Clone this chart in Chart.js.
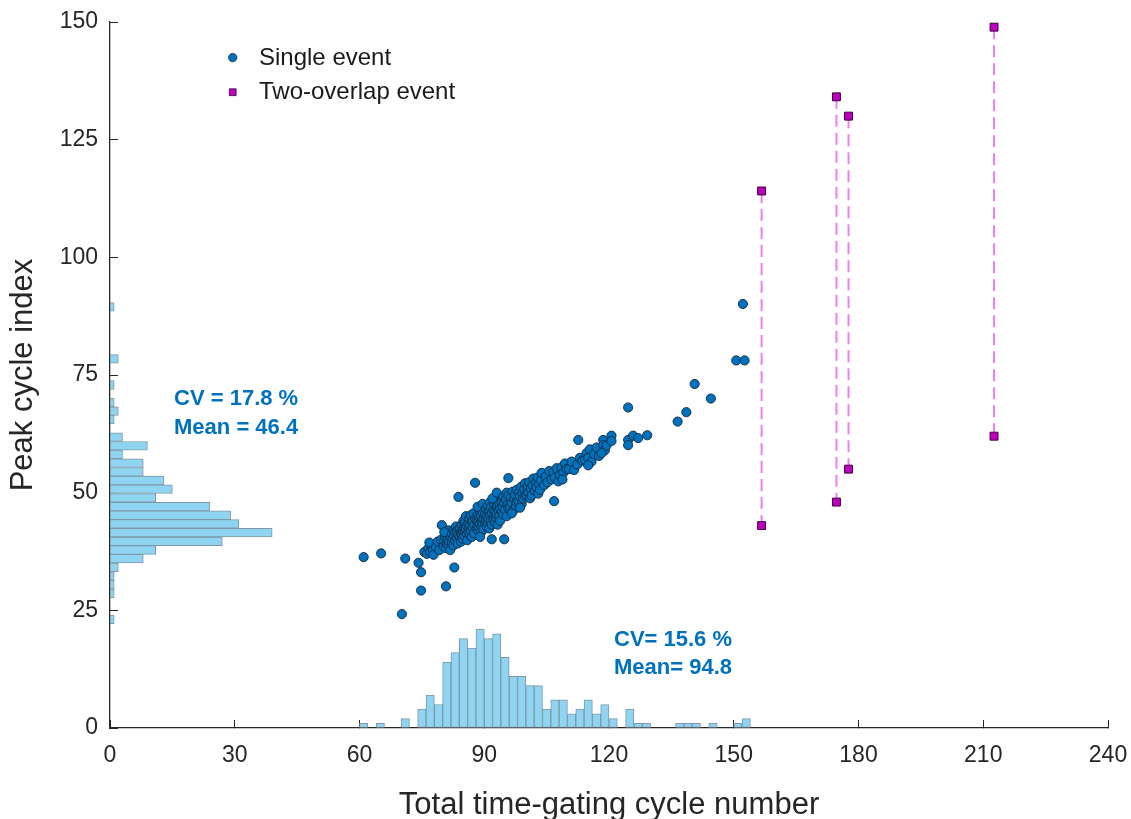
<!DOCTYPE html>
<html>
<head>
<meta charset="utf-8">
<script src="https://cdn.jsdelivr.net/npm/chart.js@4.4.1/dist/chart.umd.min.js"></script>
<style>
html,body{margin:0;padding:0;background:#ffffff;}
#wrap{width:1131px;height:819px;position:relative;overflow:hidden;}
</style>
</head>
<body>
<div id="wrap"><canvas id="c" width="1131" height="819"></canvas></div>
<script>
// ---------------- data ----------------
const xTicks = [0, 30, 60, 90, 120, 150, 180, 210, 240];
const yTicks = [0, 25, 50, 75, 100, 125, 150];
const xTitle = 'Total time-gating cycle number';
const yTitle = 'Peak cycle index';
const legendLabels = ['Single event', 'Two-overlap event'];
const statsY = ['CV = 17.8 %', 'Mean = 46.4'];
const statsX = ['CV= 15.6 %', 'Mean= 94.8'];

// single events [total cycles, peak cycle index]
const singleEvents = [
[61.0,36.3],[65.2,37.1],[70.2,24.2],[71.0,36.0],
[74.2,35.1],[74.8,33.1],[74.8,29.2],[75.6,37.4],
[76.2,37.0],[76.6,38.2],[77.0,37.4],[77.2,39.0],[77.6,38.0],[77.8,36.8],[76.8,39.4],
[78.4,38.4],[78.8,39.6],[79.2,37.8],[79.6,40.0],[79.8,43.1],
[80.8,30.1],[80.2,38.6],[80.4,39.8],[80.6,40.6],[80.8,38.2],[81.0,39.2],[81.0,41.2],[81.2,40.0],[81.4,38.8],[81.4,42.0],[81.6,39.6],[81.8,40.8],[81.8,37.8],[80.4,41.6],
[82.8,34.1],[83.8,49.1],[82.2,39.4],[82.2,41.2],[82.4,40.2],[82.6,42.0],[82.6,38.8],[82.8,40.8],[83.0,41.6],[83.0,39.8],[83.2,42.8],[83.4,40.4],[83.4,41.8],[83.6,39.2],[83.8,42.2],[83.8,40.9],
[84.2,40.6],[84.2,42.4],[84.4,41.4],[84.4,39.6],[84.6,43.2],[84.6,41.0],[84.8,42.0],[84.8,40.2],[85.0,44.0],[85.0,41.6],[85.2,42.8],[85.2,40.8],[85.4,43.6],[85.4,41.8],[85.6,42.4],[85.6,45.0],[85.8,41.2],[85.8,43.0],[85.9,39.9],
[87.8,52.1],[86.2,41.6],[86.2,43.4],[86.4,42.4],[86.4,44.6],[86.6,41.0],[86.6,43.0],[86.8,45.2],[86.8,42.0],[87.0,43.8],[87.0,40.6],[87.2,44.0],[87.2,42.6],[87.4,45.6],[87.6,43.2],[87.6,41.4],[87.8,44.4],
[88.2,42.4],[88.2,44.2],[88.4,43.0],[88.4,45.2],[88.6,41.8],[88.6,43.8],[88.8,44.8],[88.8,42.6],[89.0,46.0],[89.0,43.4],[89.2,45.0],[89.2,41.6],[89.4,44.0],[89.4,42.8],[89.6,45.8],[89.6,43.6],[89.8,44.4],[89.8,42.2],[88.4,47.0],[89.0,40.6],[89.6,47.6],
[91.8,40.1],[90.2,43.6],[90.2,45.4],[90.4,44.2],[90.4,46.6],[90.6,42.8],[90.6,45.0],[90.8,47.2],[90.8,43.8],[91.0,45.8],[91.0,44.4],[91.2,46.2],[91.2,42.4],[91.4,45.2],[91.4,48.0],[91.6,44.0],[91.6,46.8],[91.8,45.6],[91.8,43.2],
[92.2,44.4],[92.2,46.4],[92.4,45.2],[92.4,47.6],[92.6,43.6],[92.6,46.0],[92.8,48.2],[92.8,44.8],[93.0,46.8],[93.0,45.4],[93.2,47.2],[93.2,43.2],[93.4,46.2],[93.4,49.0],[93.6,45.0],[93.6,47.8],[93.8,46.6],[93.8,44.0],[92.0,48.8],[93.0,50.0],
[94.8,40.1],[95.8,53.1],[94.2,46.0],[94.2,48.0],[94.4,47.0],[94.6,49.2],[94.6,45.4],[94.8,47.8],[95.0,46.4],[95.2,48.6],[95.4,50.0],[95.4,45.0],[95.6,47.4],[95.8,49.4],[95.8,46.8],
[96.2,47.0],[96.4,49.0],[96.6,47.8],[96.8,50.2],[97.0,46.2],[97.2,48.6],[97.4,49.6],[97.6,47.2],[97.8,50.6],[97.8,48.0],[96.6,45.6],
[98.2,48.2],[98.4,50.0],[98.6,49.2],[98.8,51.2],[99.0,47.6],[99.2,49.8],[99.4,48.8],[99.6,50.8],[99.8,49.4],[99.8,52.0],[98.6,46.8],
[100.2,49.6],[100.4,51.2],[100.6,50.0],[100.8,52.2],[101.0,48.8],[101.2,50.8],[101.4,49.4],[101.6,51.6],[101.8,53.0],
[102.2,50.4],[102.4,52.0],[102.6,51.2],[102.8,53.2],[103.0,49.8],[103.2,51.8],[103.4,50.6],[103.6,52.6],[103.8,54.2],
[104.4,51.6],[104.8,53.4],[105.2,52.2],[105.6,54.6],
[106.8,48.2],[106.2,52.8],[106.6,54.4],[107.0,53.2],[107.4,55.2],[107.8,52.4],
[108.2,53.8],[108.6,55.4],[109.0,54.2],[109.4,56.2],[109.8,55.0],[108.8,52.8],
[110.4,55.0],[111.0,56.6],[111.6,54.8],
[112.6,61.2],[112.4,56.0],[113.0,57.4],[113.6,56.8],
[114.2,57.0],[114.6,58.4],[115.0,57.4],[115.4,59.2],[115.8,56.6],[115.0,55.8],
[116.4,58.2],[117.0,59.6],[117.6,57.8],
[118.6,61.2],[118.6,60.1],[119.0,59.0],[119.4,60.0],[118.2,58.4],
[120.6,62.1],[120.6,61.0],
[124.6,68.1],[124.6,61.2],[124.6,60.1],[125.8,62.1],
[127.0,61.6],[129.2,62.2],
[136.5,65.1],[138.6,67.1],[140.6,73.1],[144.5,70.0],[150.6,78.1],[152.2,90.1],[152.6,78.1]
];

// two-overlap events: one x, two peaks
const overlapX = [156.7, 174.7, 177.6, 212.6];
const overlapTop = [114.1, 134.1, 130.0, 148.9];
const overlapBottom = [43.0, 48.0, 55.0, 62.0];

// histogram of total cycles (bin centers, counts)
const xHistCenters = [61,65,71,75,77,79,81,83,85,87,89,91,93,95,97,99,101,103,105,107,109,111,113,115,117,119,121,125,127,129,137,139,141,145,151,153];
const xHistCounts  = [1,1,2,4,7,5,14,16,19,17,21,19,20,15,11,11,9,9,4,6,6,3,4,6,3,5,2,4,1,1,1,1,1,1,1,2];

// histogram of peak cycle index (bin centers, counts)
const yHistCenters = [89.48,78.41,72.88,69.18,67.34,65.50,61.81,59.96,58.12,56.27,54.43,52.58,50.74,48.89,47.05,45.20,43.36,41.51,39.67,37.82,35.98,34.13,32.29,30.44,28.60,23.06];
const yHistCounts  = [1,2,1,1,2,1,3,9,3,8,8,13,15,11,24,29,31,39,27,11,8,2,1,1,1,1];

// ---------------- chart ----------------
const FONT = '"Liberation Sans", Arial, Helvetica, sans-serif';
const INK = '#262626';
const BLUE = '#0072BD';
Chart.defaults.font.family = FONT;
Chart.defaults.color = INK;

const scatterData = singleEvents.map(([x, y]) => ({x, y}));
const pairLines = [];
overlapX.forEach((x, i) => {
  pairLines.push({x, y: overlapTop[i]}, {x, y: overlapBottom[i]}, {x, y: null});
});
const pairPoints = overlapX.flatMap((x, i) => [{x, y: overlapTop[i]}, {x, y: overlapBottom[i]}]);
const xHistData = xHistCenters.map((c, i) => ({x: c, y: xHistCounts[i]}));
const yHistData = yHistCenters.map((c, i) => ({x: yHistCounts[i], y: c}));

const overlay = {
  id: 'overlay',
  afterDraw(chart) {
    const {ctx, chartArea: a, scales: {x, y}} = chart;
    ctx.save();
    ctx.fillStyle = BLUE;
    ctx.font = 'bold 22px ' + FONT;
    ctx.textAlign = 'left';
    ctx.textBaseline = 'middle';
    ctx.fillText(statsY[0], x.getPixelForValue(15.4), y.getPixelForValue(70.0));
    ctx.fillText(statsY[1], x.getPixelForValue(15.4), y.getPixelForValue(63.7));
    ctx.fillText(statsX[0], x.getPixelForValue(121.2), y.getPixelForValue(18.7));
    ctx.fillText(statsX[1], x.getPixelForValue(121.2), y.getPixelForValue(12.85));

    // legend
    const mx = a.left + 122.7;
    const r1 = a.top + 35.6, r2 = a.top + 70.2;
    ctx.lineWidth = 0.8;
    ctx.beginPath();
    ctx.arc(mx, r1, 4.2, 0, Math.PI * 2);
    ctx.fillStyle = BLUE; ctx.fill();
    ctx.strokeStyle = '#14283c'; ctx.stroke();
    ctx.beginPath();
    ctx.rect(mx - 3.4, r2 - 3.4, 6.8, 6.8);
    ctx.fillStyle = '#bf00bf'; ctx.fill();
    ctx.strokeStyle = '#3d003d'; ctx.stroke();
    ctx.fillStyle = '#1a1a1a';
    ctx.font = '24px ' + FONT;
    ctx.fillText(legendLabels[0], a.left + 149, r1 + 1);
    ctx.fillText(legendLabels[1], a.left + 149, r2);
    ctx.restore();
  }
};

const tickFont = {size: 23};
const gridOpts = {drawOnChartArea: false, drawTicks: true, tickLength: -8, color: INK, lineWidth: 1, offset: false};
const noOverhang = s => { s.paddingLeft = 0; s.paddingRight = 0; s.paddingTop = 0; s.paddingBottom = 0; };

new Chart(document.getElementById('c'), {
  type: 'scatter',
  data: {
    datasets: [
      {type: 'scatter', label: legendLabels[0], data: scatterData, xAxisID: 'x', yAxisID: 'y',
       pointStyle: 'circle', pointRadius: 4.6, pointHoverRadius: 4.6,
       backgroundColor: BLUE, borderColor: '#14283c', borderWidth: 0.9, order: 0},
      {type: 'scatter', label: legendLabels[1], data: pairPoints, xAxisID: 'x', yAxisID: 'y',
       pointStyle: 'rect', pointRadius: 5.6, pointHoverRadius: 5.6,
       backgroundColor: '#bf00bf', borderColor: '#3d003d', borderWidth: 1, order: 1},
      {type: 'line', label: 'pairs', data: pairLines, xAxisID: 'x', yAxisID: 'y',
       borderColor: '#f07ef0', borderWidth: 2, borderDash: [12, 6], pointRadius: 0,
       spanGaps: false, fill: false, showLine: true, order: 2},
      {type: 'bar', label: 'total hist', data: xHistData, xAxisID: 'x', yAxisID: 'y',
       backgroundColor: '#8fd4f1', borderColor: '#7f97a6', borderWidth: 1, borderSkipped: false,
       barPercentage: 1, categoryPercentage: 1, grouped: false, order: 3},
      {type: 'bar', label: 'peak hist', indexAxis: 'y', data: yHistData, xAxisID: 'x2', yAxisID: 'y2',
       backgroundColor: '#8fd4f1', borderColor: '#7f97a6', borderWidth: 1, borderSkipped: false,
       barPercentage: 1, categoryPercentage: 1, grouped: false, order: 4}
    ]
  },
  options: {
    responsive: false,
    devicePixelRatio: 1,
    animation: false,
    events: [],
    layout: {padding: {left: 0, top: 22, right: 23, bottom: 0}},
    plugins: {legend: {display: false}, tooltip: {enabled: false}},
    scales: {
      x: {
        type: 'linear', position: 'bottom', min: 0, max: 240, offset: false, z: 1,
        afterBuildTicks: s => { s.ticks = xTicks.map(v => ({value: v})); },
        afterFit: s => { s.height = 91; noOverhang(s); },
        ticks: {font: tickFont, color: INK, padding: 22, maxRotation: 0, autoSkip: false},
        grid: gridOpts,
        border: {display: true, color: INK, width: 1.3},
        title: {display: true, text: xTitle, color: INK, font: {size: 31}, padding: {top: 0, bottom: -5}}
      },
      y: {
        type: 'linear', position: 'left', min: 0, max: 150, offset: false, z: 1,
        afterBuildTicks: s => { s.ticks = yTicks.map(v => ({value: v})); },
        afterFit: s => { s.width = 110; noOverhang(s); },
        ticks: {font: tickFont, color: INK, padding: 20, autoSkip: false},
        grid: gridOpts,
        border: {display: true, color: INK, width: 1.3},
        title: {display: true, text: yTitle, color: INK, font: {size: 31}, padding: {top: 5, bottom: 0}}
      },
      x2: {type: 'linear', position: 'bottom', min: 0, max: 240, offset: false, display: false,
           grid: {offset: false}, afterFit: noOverhang},
      y2: {type: 'linear', position: 'left', min: 0, max: 150, offset: false, display: false,
           grid: {offset: false}, afterFit: noOverhang}
    }
  },
  plugins: [overlay]
});
</script>
</body>
</html>
